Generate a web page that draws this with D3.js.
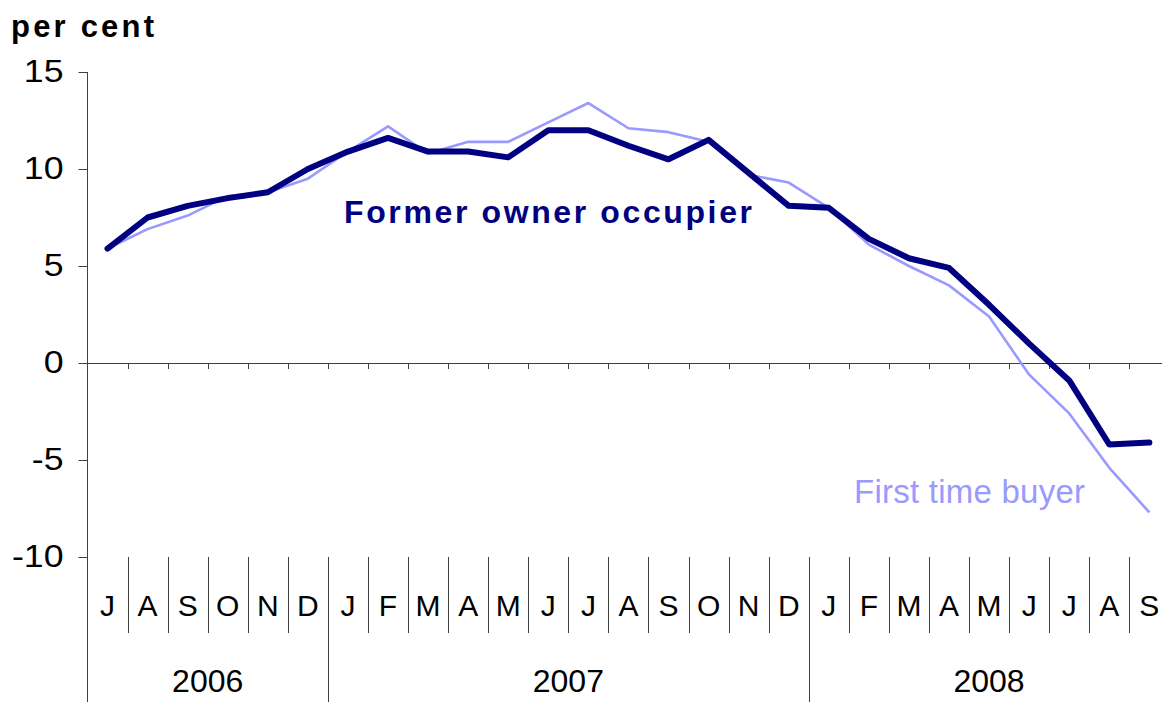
<!DOCTYPE html>
<html>
<head>
<meta charset="utf-8">
<script src="https://cdn.jsdelivr.net/npm/d3@7"></script>
<style>
  html, body { margin: 0; padding: 0; background: #fff; }
  svg { display: block; font-family: "Liberation Sans", Arial, sans-serif; }
</style>
</head>
<body>
<div id="chart"></div>
<script>
// month initials, Jul 2006 .. Sep 2008
const months = ["J","A","S","O","N","D",
  "J","F","M","A","M","J","J","A","S","O","N","D",
  "J","F","M","A","M","J","J","A","S"];
const years = ["2006", "2007", "2008"];
const yearStart = [0, 6, 18];
const yearEnd = [6, 18, 27];

// annual house price inflation, per cent
const formerOwner = [5.9, 7.5, 8.1, 8.5, 8.8, 10.0, 10.9, 11.6, 10.9, 10.9, 10.6, 12.0, 12.0,
  11.2, 10.5, 11.5, 9.8, 8.1, 8.0, 6.4, 5.4, 4.9, 3.0, 1.0, -0.9, -4.2, -4.1];
const firstTime = [5.9, 6.9, 7.6, 8.6, 8.8, 9.5, 10.9, 12.2, 10.8, 11.4, 11.4, 12.4, 13.4,
  12.1, 11.9, 11.4, 9.7, 9.3, 8.0, 6.1, 5.0, 4.0, 2.4, -0.6, -2.6, -5.4, -7.7];
const yTicks = [-10, -5, 0, 5, 10, 15];

const W = 1162, H = 702;
const left = 87.5, step = 40.07;

const svg = d3.select("#chart").append("svg")
  .attr("width", W).attr("height", H);

const idx = d3.range(months.length);
const x = d3.scaleBand().domain(idx).range([left, left + step * months.length]);
const y = d3.scaleLinear().domain([-10, 15]).range([557, 72]);

const axisColor = "#404040";

// y axis
const yAxis = svg.append("g")
  .attr("transform", "translate(" + left + ",0)")
  .call(d3.axisLeft(y).tickValues(yTicks).tickSize(9).tickPadding(15).tickFormat(d => String(d)));
yAxis.select(".domain").remove();
yAxis.selectAll("line").attr("stroke", axisColor);
yAxis.selectAll("text")
  .attr("font-size", 31)
  .attr("font-family", "Liberation Sans, Arial, sans-serif")
  .attr("fill", "#000")
  .each(function () {
    // the original glyphs are a little wider than Arial's
    const w = this.getComputedTextLength();
    d3.select(this).attr("textLength", w * 1.15).attr("lengthAdjust", "spacingAndGlyphs");
  });

// axis line from top down to bottom of the category area
svg.append("line")
  .attr("x1", left).attr("x2", left)
  .attr("y1", y(15)).attr("y2", H)
  .attr("stroke", axisColor);

// zero line
svg.append("line")
  .attr("x1", left).attr("x2", W)
  .attr("y1", Math.round(y(0)) + 0.5).attr("y2", Math.round(y(0)) + 0.5)
  .attr("stroke", axisColor);

// small ticks under the zero line at month boundaries
svg.append("g").selectAll("line")
  .data(idx.slice(1))
  .join("line")
  .attr("x1", d => Math.round(x(d)) + 0.5).attr("x2", d => Math.round(x(d)) + 0.5)
  .attr("y1", y(0)).attr("y2", y(0) + 6)
  .attr("stroke", axisColor);

// month separators in the label area
svg.append("g").selectAll("line")
  .data(idx.slice(1).filter(d => !yearStart.includes(d)))
  .join("line")
  .attr("x1", d => Math.round(x(d)) + 0.5).attr("x2", d => Math.round(x(d)) + 0.5)
  .attr("y1", y(-10)).attr("y2", 633)
  .attr("stroke", axisColor);

// year separators
svg.append("g").selectAll("line")
  .data(yearStart.slice(1))
  .join("line")
  .attr("x1", d => Math.round(x(d)) + 0.5).attr("x2", d => Math.round(x(d)) + 0.5)
  .attr("y1", y(-10)).attr("y2", H)
  .attr("stroke", axisColor);

// month labels
svg.append("g").selectAll("text")
  .data(idx)
  .join("text")
  .attr("x", d => x(d) + x.bandwidth() / 2)
  .attr("y", 616)
  .attr("text-anchor", "middle")
  .attr("font-size", 30)
  .text(d => months[d]);

// year labels
svg.append("g").selectAll("text")
  .data(years)
  .join("text")
  .attr("x", (d, i) => (x(yearStart[i]) + x(yearEnd[i] - 1) + x.bandwidth()) / 2)
  .attr("y", 692)
  .attr("text-anchor", "middle")
  .attr("font-size", 32)
  .text(d => d);

// lines
const line = d3.line()
  .x((d, i) => x(i) + x.bandwidth() / 2)
  .y(d => y(d));

svg.append("path")
  .datum(firstTime)
  .attr("d", line)
  .attr("fill", "none")
  .attr("stroke", "#9999ff")
  .attr("stroke-width", 2.6)
  .attr("stroke-linejoin", "round");

svg.append("path")
  .datum(formerOwner)
  .attr("d", line)
  .attr("fill", "none")
  .attr("stroke", "#000080")
  .attr("stroke-width", 6)
  .attr("stroke-linejoin", "round")
  .attr("stroke-linecap", "round");

// labels
svg.append("text")
  .attr("x", 11).attr("y", 37)
  .attr("font-size", 31).attr("font-weight", "bold")
  .attr("textLength", 143).attr("lengthAdjust", "spacing")
  .text("per cent");

svg.append("text")
  .attr("x", 344).attr("y", 223)
  .attr("font-size", 32).attr("font-weight", "bold")
  .attr("fill", "#000080")
  .attr("textLength", 408).attr("lengthAdjust", "spacing")
  .text("Former owner occupier");

svg.append("text")
  .attr("x", 854).attr("y", 503)
  .attr("font-size", 33)
  .attr("fill", "#9999ff")
  .attr("textLength", 231).attr("lengthAdjust", "spacing")
  .text("First time buyer");
</script>
</body>
</html>
